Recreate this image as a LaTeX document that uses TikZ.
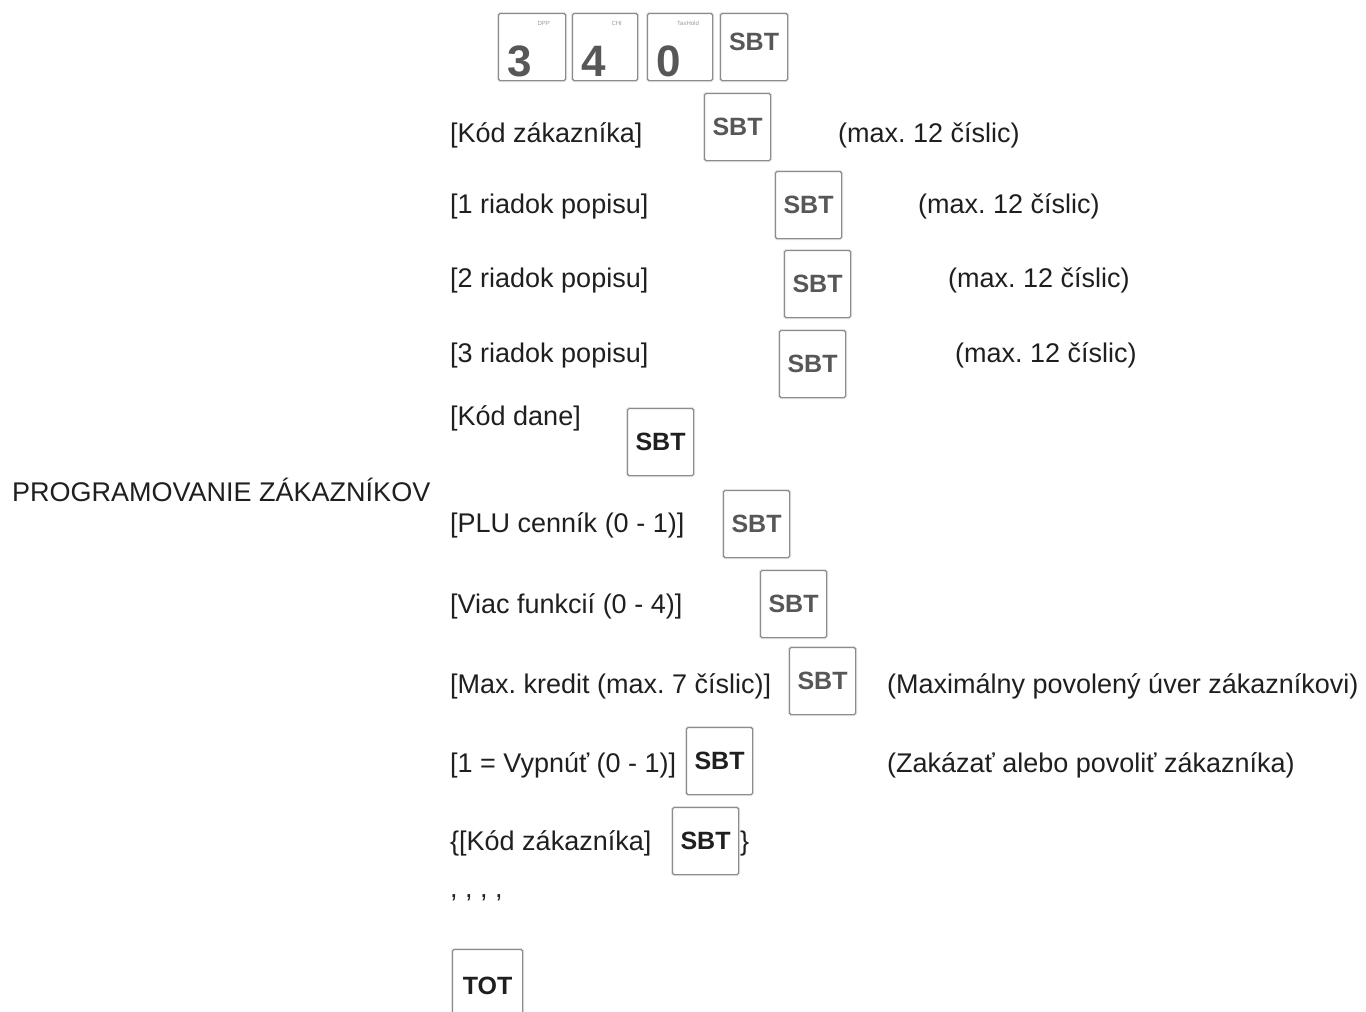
\documentclass[tikz,border=0pt]{standalone}
\usepackage{fontspec}
\setmainfont{Liberation Sans}
\begin{document}
\frenchspacing
\begin{tikzpicture}[x=1pt,y=-1pt,
  txt/.style={anchor=base west,inner sep=0pt,text=black!88,font=\fontsize{27}{32}\selectfont},
  keybox/.style={draw=black!45,line width=1.1pt,fill=white,rounded corners=1.5pt,
     minimum width=66pt,minimum height=67pt,inner sep=0pt,anchor=north west,
     font=\fontsize{25}{30}\selectfont\bfseries,
     preaction={draw=black!12,line width=3pt,rounded corners=2pt}},
  lightkey/.style={keybox,text=black!66},
  darkkey/.style={keybox,text=black!88},
  digit/.style={anchor=base west,inner sep=0pt,text=black!66,font=\fontsize{44}{50}\selectfont\bfseries},
  tiny/.style={anchor=north east,inner sep=0pt,text=black!40,font=\fontsize{6}{7}\selectfont}
]
\useasboundingbox (0,0) rectangle (1366,1012);

% top key sequence
\node[lightkey,minimum width=67pt] (n3) at (498,13) {};
\node[lightkey,minimum width=65pt] (n4) at (572,13) {};
\node[lightkey,minimum width=65pt] (n0) at (647,13) {};
\node[lightkey,minimum width=67pt] (ksbt0) at (720,13) {};
\node[anchor=north,inner sep=0pt,text=black!66,font=\fontsize{25}{30}\selectfont\bfseries] (sbt0lbl) at ([yshift=-20pt]ksbt0.north) {SBT};
\node[digit] (d3) at ([xshift=9pt,yshift=5pt]n3.south west) {3};
\node[digit] (d4) at ([xshift=9pt,yshift=5pt]n4.south west) {4};
\node[digit] (d0) at ([xshift=9pt,yshift=5pt]n0.south west) {0};
\node[tiny] (t3) at ([xshift=-16pt,yshift=-8pt]n3.north east) {DPP};
\node[tiny] (t4) at ([xshift=-16pt,yshift=-8pt]n4.north east) {CHI};
\node[tiny] (t0) at ([xshift=-14pt,yshift=-8pt]n0.north east) {TaxHold};

% title
\node[txt] (title) at (12,501) {PROGRAMOVANIE ZÁKAZNÍKOV};

% rows
\node[txt] (r1) at (450,142) {[Kód zákazníka]};
\node[lightkey] (k1) at (704,93) {SBT};
\node[txt] (m1) at (838,142) {(max. 12 číslic)};

\node[txt] (r2) at (450,213) {[1 riadok popisu]};
\node[lightkey] (k2) at (775,171) {SBT};
\node[txt] (m2) at (918,213) {(max. 12 číslic)};

\node[txt] (r3) at (450,287) {[2 riadok popisu]};
\node[lightkey] (k3) at (784,250) {SBT};
\node[txt] (m3) at (948,287) {(max. 12 číslic)};

\node[txt] (r4) at (450,362) {[3 riadok popisu]};
\node[lightkey] (k4) at (779,330) {SBT};
\node[txt] (m4) at (955,362) {(max. 12 číslic)};

\node[txt] (r5) at (450,425) {[Kód dane]};
\node[darkkey] (k5) at (627,408) {SBT};

\node[txt] (r6) at (450,532) {[PLU cenník (0 - 1)]};
\node[lightkey] (k6) at (723,490) {SBT};

\node[txt] (r7) at (450,613) {[Viac funkcií (0 - 4)]};
\node[lightkey] (k7) at (760,570) {SBT};

\node[txt] (r8) at (450,693) {[Max. kredit (max. 7 číslic)]};
\node[lightkey] (k8) at (789,647) {SBT};
\node[txt] (m8) at (887,693) {(Maximálny povolený úver zákazníkovi)};

\node[txt] (r9) at (450,772) {[1 = Vypnúť (0 - 1)]};
\node[darkkey] (k9) at (686,727) {SBT};
\node[txt] (m9) at (887,772) {(Zakázať alebo povoliť zákazníka)};

\node[txt] (r10) at (450,850) {\{[Kód zákazníka]};
\node[darkkey] (k10) at (672,807) {SBT};
\node[txt] (r10b) at (740,850) {\}};

\node[txt] (dots) at (450,897) {, , , ,};

\node[darkkey,minimum width=70pt,minimum height=72pt] (tot) at (452,949) {TOT};
\end{tikzpicture}
\end{document}
